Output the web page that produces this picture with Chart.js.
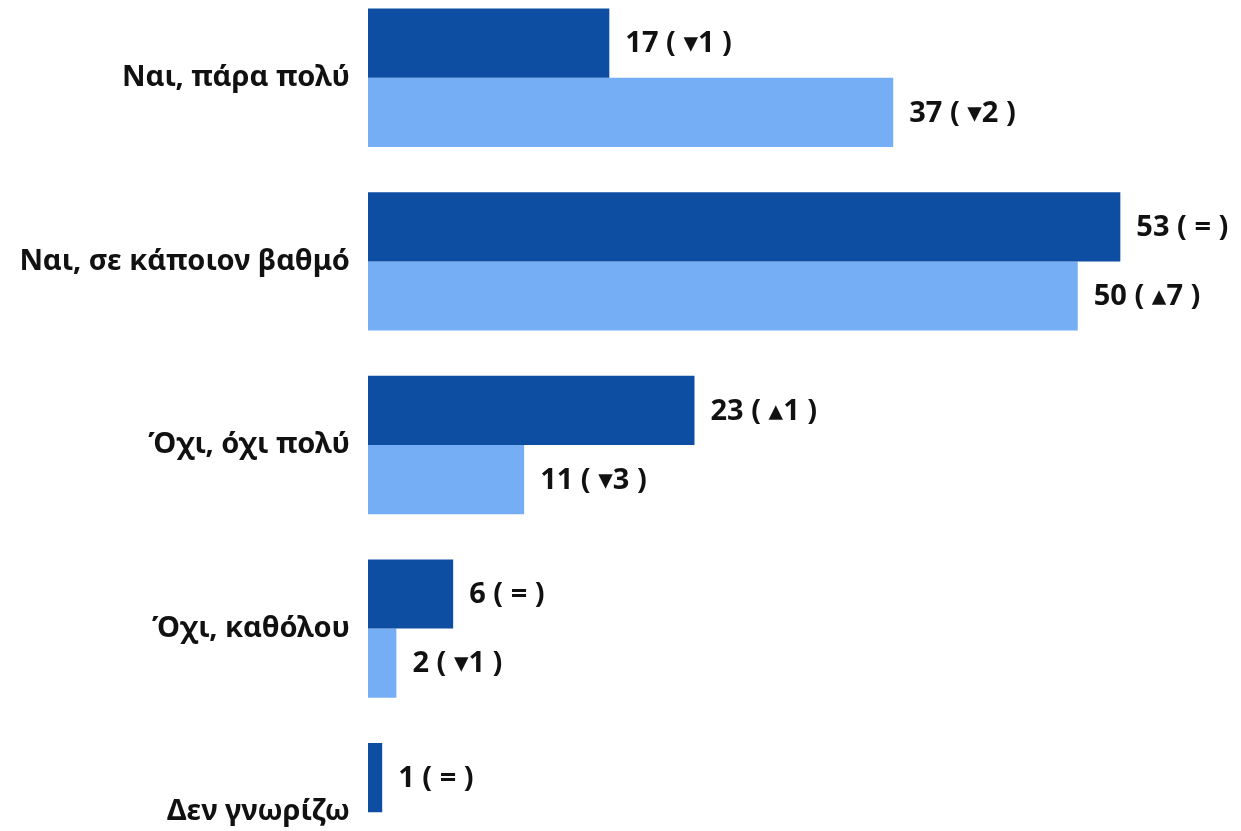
<!DOCTYPE html>
<html>
<head>
  <meta charset="UTF-8">
  <title>Ναι / Όχι</title>
  <script src="https://cdn.jsdelivr.net/npm/chart.js"></script>
  <style>
    html, body {
      margin: 0;
      padding: 0;
      background: #fff;
      overflow: hidden;
    }
    #wrap {
      position: absolute;
      left: 0;
      top: -14px;
      width: 1241px;
      height: 918px;
    }
  </style>
</head>
<body>
  <div id="wrap"><canvas id="grafico"></canvas></div>

  <script>
    const categorias = ['Ναι, πάρα πολύ', 'Ναι, σε κάποιον βαθμό', 'Όχι, όχι πολύ', 'Όχι, καθόλου', 'Δεν γνωρίζω'];
    const valoresA = [17, 53, 23, 6, 1];
    const valoresB = [37, 50, 11, 2, null];
    const mudancasA = ['▾1', '=', '▴1', '=', '='];
    const mudancasB = ['▾2', '▴7', '▾3', '▾1', null];

    const fonte = '"Noto Sans", "DejaVu Sans", sans-serif';

    // rótulos de valor à direita de cada barra
    const rotulos = {
      id: 'rotulos',
      afterDatasetsDraw(chart) {
        const ctx = chart.ctx;
        const mud = [mudancasA, mudancasB];
        ctx.save();
        ctx.font = 'bold 29px ' + fonte;
        ctx.fillStyle = '#111';
        ctx.textAlign = 'left';
        ctx.textBaseline = 'middle';
        chart.data.datasets.forEach((ds, i) => {
          const meta = chart.getDatasetMeta(i);
          meta.data.forEach((bar, j) => {
            const v = ds.data[j];
            if (v == null) return;
            ctx.fillText(v + ' ( ' + mud[i][j] + ' )', bar.x + 16, bar.y + 1);
          });
        });
        ctx.restore();
      }
    };

    let ctx = document.getElementById('grafico').getContext('2d');
    let chart = new Chart(ctx, {
      type: 'bar',
      data: {
        labels: categorias,
        datasets: [{
          data: valoresA,
          backgroundColor: '#0d4ea3',
          categoryPercentage: 0.754,
          barPercentage: 1
        }, {
          data: valoresB,
          backgroundColor: '#76aef5',
          categoryPercentage: 0.754,
          barPercentage: 1
        }]
      },
      options: {
        indexAxis: 'y',
        animation: false,
        responsive: true,
        maintainAspectRatio: false,
        layout: { padding: 0 },
        plugins: {
          legend: { display: false },
          tooltip: { enabled: false }
        },
        scales: {
          x: {
            display: false,
            min: 0,
            max: 61.5
          },
          y: {
            border: { display: false },
            grid: { display: false, drawTicks: false },
            ticks: {
              padding: 18,
              color: '#111',
              font: { family: fonte, size: 29, weight: 'bold' }
            },
            afterFit(scale) {
              scale.width = 368;
              scale.paddingTop = 0;
              scale.paddingBottom = 0;
            }
          }
        }
      },
      plugins: [rotulos]
    });
  </script>
</body>
</html>
